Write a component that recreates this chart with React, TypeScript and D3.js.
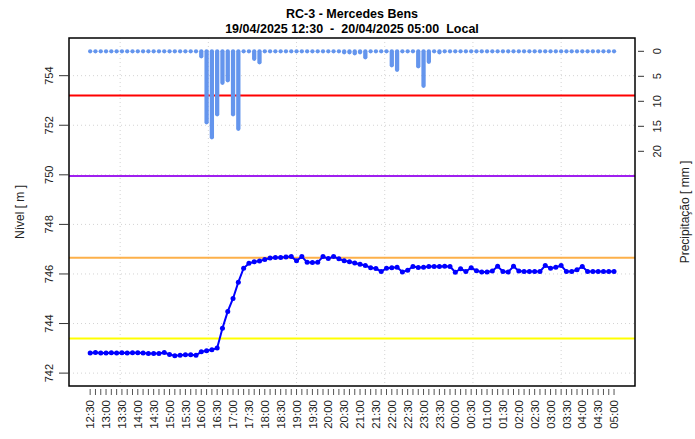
import React from "react";
import * as d3 from "d3";

const W = 695;
const H = 439;

const titleLine1 = "RC-3 - Mercedes Bens";
const titleLine2 = "19/04/2025 12:30  -  20/04/2025 05:00  Local";
const leftTitle = "Nível [ m ]";
const rightTitle = "Precipitação [ mm ]";

const startTime = new Date(2025, 3, 19, 12, 30);
const stepMinutes = 10;

// water level (m), every 10 minutes from 12:30 to 05:00
const level = [
  742.81, 742.83, 742.81, 742.81, 742.82, 742.81, 742.82, 742.81, 742.82, 742.82,
  742.81, 742.79, 742.79, 742.79, 742.83, 742.75, 742.7, 742.72, 742.74, 742.74,
  742.72, 742.86, 742.9, 742.94, 743.01, 743.81, 744.49, 745.01, 745.67, 746.23,
  746.43, 746.49, 746.52, 746.58, 746.64, 746.66, 746.66, 746.68, 746.7, 746.53,
  746.7, 746.47, 746.46, 746.47, 746.7, 746.62, 746.7, 746.61, 746.53, 746.49,
  746.44, 746.39, 746.34, 746.25, 746.22, 746.1, 746.23, 746.25, 746.27, 746.08,
  746.15, 746.3, 746.26, 746.27, 746.3, 746.3, 746.3, 746.31, 746.3, 746.07,
  746.21, 746.1, 746.25, 746.13, 746.08, 746.08, 746.12, 746.31, 746.1, 746.08,
  746.31, 746.12, 746.1, 746.1, 746.1, 746.1, 746.34, 746.23, 746.27, 746.34,
  746.1, 746.1, 746.17, 746.3, 746.1, 746.1, 746.1, 746.1, 746.1, 746.1,
];

// precipitation (mm) per 10 minutes
const precip = [
  0, 0, 0, 0, 0, 0, 0, 0, 0, 0,
  0, 0, 0, 0, 0, 0, 0, 0, 0, 0,
  0, 1.0, 14.2, 17.2, 12.6, 6.3, 5.8, 12.6, 15.5, 0,
  0, 1.5, 2.2, 0, 0, 0, 0, 0, 0, 0,
  0, 0, 0, 0, 0, 0, 0, 0, 0.2, 0.2,
  0.4, 0.2, 1.2, 0, 0, 0, 0, 2.8, 3.7, 0,
  0, 0, 3.0, 6.9, 2.1, 0, 0.2, 0, 0, 0,
  0, 0, 0, 0, 0, 0, 0, 0, 0, 0,
  0, 0, 0, 0, 0, 0, 0, 0, 0, 0,
  0, 0, 0, 0, 0, 0, 0, 0, 0, 0,
];

// alert reference levels (m)
const refLevels = [753.2, 749.95, 746.65, 743.4];
const refColors = ["#FF0000", "#A020F0", "#FDB04A", "#FFFF00"];

const leftTicks = [742, 744, 746, 748, 750, 752, 754];
const rightTicks = [0, 5, 10, 15, 20];

const xLabels = [
  "12:30", "13:00", "13:30", "14:00", "14:30", "15:00", "15:30", "16:00", "16:30",
  "17:00", "17:30", "18:00", "18:30", "19:00", "19:30", "20:00", "20:30", "21:00",
  "21:30", "22:00", "22:30", "23:00", "23:30", "00:00", "00:30", "01:00", "01:30",
  "02:00", "02:30", "03:00", "03:30", "04:00", "04:30", "05:00",
];

// vertical grid lines (minutes after start)
const gridMinutes = [56.67, 223.33, 390, 556.67, 723.33, 890];

const FONT = "'Liberation Sans', Arial, Helvetica, sans-serif";

export default function App() {
  const box = { l: 69, r: 635, t: 38, b: 386 };
  const times = level.map((_, i) => d3.timeMinute.offset(startTime, i * stepMinutes));
  const endTime = times[times.length - 1];
  const pad = 39.6;
  const x = d3
    .scaleTime()
    .domain([d3.timeMinute.offset(startTime, -pad), new Date(endTime.getTime() + pad * 60000)])
    .range([box.l, box.r]);
  const y = d3.scaleLinear().domain([741.48, 755.52]).range([box.b, box.t]);
  const yP = d3.scaleLinear().domain([-2.66, 66.94]).range([box.t, box.b]);

  const linePath = d3
    .line<number>()
    .x((_, i) => x(times[i]))
    .y((d) => y(d))(level) as string;

  const labelTimes = xLabels.map((_, k) => d3.timeMinute.offset(startTime, k * 30));

  return (
    <svg
      width={W}
      height={H}
      style={{ position: "absolute", left: 0, top: 0, background: "#fff" }}
      fontFamily={FONT}
    >
      <rect x={0} y={0} width={W} height={H} fill="#fff" />
      {/* title */}
      <text x={352} y={18} textAnchor="middle" fontWeight="bold" fontSize={12.5} style={{ whiteSpace: "pre" }}>
        {titleLine1}
      </text>
      <text x={352} y={33} textAnchor="middle" fontWeight="bold" fontSize={12.5} style={{ whiteSpace: "pre" }}>
        {titleLine2}
      </text>

      {/* grid */}
      {leftTicks.map((t) => (
        <line key={"hg" + t} x1={box.l} x2={box.r} y1={y(t)} y2={y(t)} stroke="#D3D3D3" strokeWidth={1} strokeDasharray="1,3" />
      ))}
      {gridMinutes.map((m) => {
        const gx = x(new Date(startTime.getTime() + m * 60000));
        return <line key={"vg" + m} x1={gx} x2={gx} y1={box.t} y2={box.b} stroke="#D3D3D3" strokeWidth={1} strokeDasharray="1,3" />;
      })}

      {/* reference levels */}
      {refLevels.map((v, i) => (
        <line key={"ref" + i} x1={box.l} x2={box.r} y1={y(v)} y2={y(v)} stroke={refColors[i]} strokeWidth={2} />
      ))}

      {/* water level */}
      <path d={linePath} fill="none" stroke="#0000FF" strokeWidth={2} />
      {level.map((v, i) => (
        <circle key={"pt" + i} cx={x(times[i])} cy={y(v)} r={2.5} fill="#0000FF" />
      ))}

      {/* precipitation */}
      {precip.map((v, i) => (
        <line
          key={"pr" + i}
          x1={x(times[i])}
          x2={x(times[i])}
          y1={yP(0)}
          y2={yP(v)}
          stroke="#6495ED"
          strokeWidth={4.3}
          strokeLinecap="round"
        />
      ))}

      {/* box */}
      <rect x={box.l} y={box.t} width={box.r - box.l} height={box.b - box.t} fill="none" stroke="#000" strokeWidth={1.5} />

      {/* left axis */}
      {leftTicks.map((t) => (
        <g key={"lt" + t}>
          <line x1={59} x2={box.l} y1={y(t)} y2={y(t)} stroke="#333" strokeWidth={1} />
          <text transform={`translate(53,${y(t)}) rotate(-90)`} textAnchor="middle" fontSize={11} fill="#222">
            {t}
          </text>
        </g>
      ))}
      <text transform={`translate(24,${(box.t + box.b) / 2}) rotate(-90)`} textAnchor="middle" fontSize={12} fill="#222">
        {leftTitle}
      </text>

      {/* right axis */}
      {rightTicks.map((t) => (
        <g key={"rt" + t}>
          <line x1={638} x2={644} y1={yP(t)} y2={yP(t)} stroke="#333" strokeWidth={1} />
          <text transform={`translate(661,${yP(t)}) rotate(-90)`} textAnchor="middle" fontSize={11} fill="#222">
            {t}
          </text>
        </g>
      ))}
      <text transform={`translate(689,${(box.t + box.b) / 2}) rotate(-90)`} textAnchor="middle" fontSize={12} fill="#222">
        {rightTitle}
      </text>

      {/* bottom axis */}
      {times.map((t, i) => (
        <line key={"xt" + i} x1={x(t)} x2={x(t)} y1={389} y2={395} stroke="#555" strokeWidth={1} />
      ))}
      {xLabels.map((lab, k) => (
        <text
          key={"xl" + k}
          transform={`translate(${x(labelTimes[k]) + 4.2},400) rotate(-90)`}
          textAnchor="end"
          fontSize={11.5}
          fill="#222"
        >
          {lab}
        </text>
      ))}
    </svg>
  );
}
